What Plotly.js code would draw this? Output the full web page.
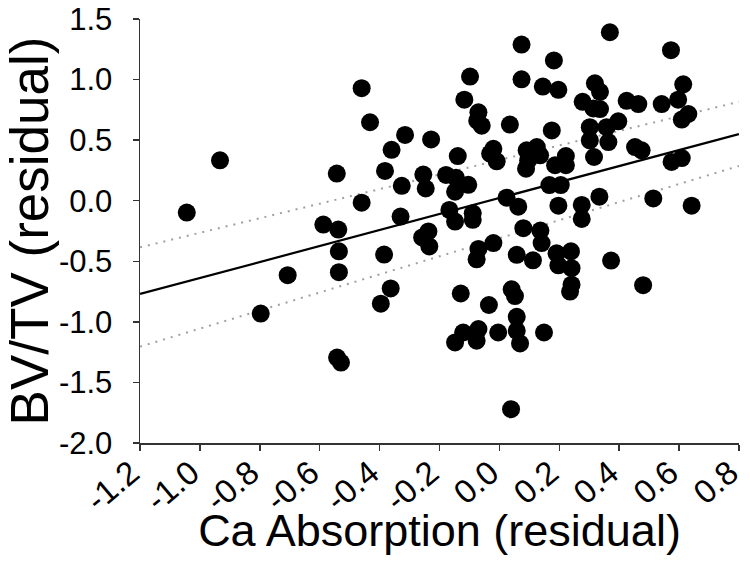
<!DOCTYPE html>
<html>
<head>
<meta charset="utf-8">
<script src="https://cdn.plot.ly/plotly-3.0.1.min.js"></script>
<style>
  html, body { margin: 0; padding: 0; background: #fff; }
  #chart { width: 750px; height: 572px; }
  #chart .g-xtitle { transform: translate(0px, -3px); }
</style>
</head>
<body>
<div id="chart"></div>
<script>
// Ca absorption residual (x) vs BV/TV residual (y)
const caAbsorption = [
  -1.044, -0.933, -0.797, -0.707, -0.588, -0.538, -0.543, -0.536, -0.536, -0.542,
  -0.529, -0.460, -0.432, -0.460, -0.382, -0.360, -0.326, -0.315, -0.330, -0.385,
  -0.363, -0.396, -0.228, -0.254, -0.246, -0.237, -0.258, -0.234, -0.178, -0.145,
  -0.148, -0.104, -0.070, -0.074, -0.059, -0.117, -0.098, -0.139, -0.020, -0.031,
  -0.009, 0.035, 0.074, 0.074, 0.182, 0.145, 0.197, 0.175, 0.091, 0.125,
  0.096, 0.136, 0.089, 0.186, 0.222, 0.222, 0.319, 0.336, 0.278, 0.314,
  0.336, 0.369, 0.425, 0.464, 0.397, 0.302, 0.358, 0.302, 0.364, 0.316,
  0.334, 0.573, 0.614, 0.542, 0.597, 0.631, 0.609, 0.453, 0.475, 0.575,
  0.609, 0.514, 0.642, 0.167, 0.205, 0.024, 0.063, 0.197, 0.275, 0.275,
  -0.167, -0.148, -0.089, -0.089, 0.080, 0.137, 0.141, -0.020, -0.070, -0.076,
  0.058, 0.112, 0.191, 0.239, 0.197, 0.241, 0.373, 0.480, 0.241, 0.236,
  -0.129, 0.041, 0.052, -0.035, 0.058, -0.121, -0.070, -0.148, -0.076, -0.004,
  0.058, 0.069, 0.149, 0.039
];
const bvtv = [
  -0.098, 0.334, -0.932, -0.615, -0.197, -0.238, 0.224, -0.418, -0.590, -1.295,
  -1.336, 0.929, 0.648, -0.016, 0.246, 0.420, 0.123, 0.543, -0.131, -0.445,
  -0.724, -0.850, 0.506, 0.216, 0.101, -0.254, -0.303, -0.377, 0.213, 0.189,
  0.074, 0.131, 0.730, 0.661, 0.620, 0.834, 1.025, 0.369, 0.429, 0.388,
  0.325, 0.629, 1.289, 1.002, 1.158, 0.943, 0.916, 0.580, 0.416, 0.443,
  0.334, 0.375, 0.265, 0.293, 0.369, 0.293, 0.970, 0.899, 0.817, 0.762,
  0.757, 1.391, 0.825, 0.798, 0.656, 0.607, 0.607, 0.498, 0.484, 0.361,
  0.033, 1.243, 0.961, 0.798, 0.834, 0.716, 0.670, 0.443, 0.416, 0.320,
  0.352, 0.019, -0.041, 0.129, 0.129, 0.025, -0.049, -0.041, -0.035, -0.150,
  -0.076, -0.172, -0.104, -0.158, -0.227, -0.246, -0.350, -0.350, -0.398, -0.484,
  -0.447, -0.492, -0.434, -0.418, -0.533, -0.557, -0.494, -0.697, -0.693, -0.750,
  -0.766, -0.732, -0.787, -0.861, -0.959, -1.088, -1.060, -1.170, -1.156, -1.088,
  -1.074, -1.178, -1.088, -1.721
];

// regression line and confidence bounds
const fitX = [-1.2, 0.8];
const fitY = [-0.77, 0.55];
const upperY = [-0.385, 0.817];
const lowerY = [-1.205, 0.287];

// axis ticks
const xTickVals = [-1.2, -1.0, -0.8, -0.6, -0.4, -0.2, 0.0, 0.2, 0.4, 0.6, 0.8];
const xTickText = ["-1.2", "-1.0", "-0.8", "-0.6", "-0.4", "-0.2", "0.0", "0.2", "0.4", "0.6", "0.8"];
const yTickVals = [-2.0, -1.5, -1.0, -0.5, 0.0, 0.5, 1.0, 1.5];
const yTickText = ["-2.0", "-1.5", "-1.0", "-0.5", "0.0", "0.5", "1.0", "1.5"];

const FONT = "Liberation Sans, Arial, sans-serif";

const traces = [
  {
    x: fitX, y: upperY, mode: "lines", type: "scatter",
    line: { color: "#a0a0a0", width: 2, dash: "2px,6px" }, hoverinfo: "skip"
  },
  {
    x: fitX, y: lowerY, mode: "lines", type: "scatter",
    line: { color: "#a0a0a0", width: 2, dash: "2px,6px" }, hoverinfo: "skip"
  },
  {
    x: fitX, y: fitY, mode: "lines", type: "scatter",
    line: { color: "#000", width: 2.2 }
  },
  {
    x: caAbsorption, y: bvtv, mode: "markers", type: "scatter",
    marker: { color: "#000", size: 18, line: { width: 0 } }
  }
];

const layout = {
  width: 750, height: 572,
  margin: { l: 140, r: 11, t: 19, b: 129 },
  paper_bgcolor: "#fff", plot_bgcolor: "#fff",
  showlegend: false,
  font: { family: FONT, color: "#000" },
  xaxis: {
    range: [-1.2002, 0.8002],
    tickvals: xTickVals, ticktext: xTickText,
    tickangle: -40,
    ticks: "outside", ticklen: 6, tickwidth: 1.5, tickcolor: "#333",
    ticklabeloverflow: "allow",
    ticklabelshift: -9,
    ticklabelstandoff: -10,
    showline: true, linecolor: "#333", linewidth: 1.5,
    showgrid: false, zeroline: false,
    tickfont: { size: 33, family: FONT, color: "#000" },
    title: { text: "Ca Absorption (residual)", font: { size: 45, family: FONT, color: "#000" }, standoff: 0 },
    automargin: false
  },
  yaxis: {
    range: [-2.0005, 1.5005],
    tickvals: yTickVals, ticktext: yTickText,
    ticks: "outside", ticklen: 6, tickwidth: 1.5, tickcolor: "#333",
    ticklabelstandoff: 14,
    ticklabeloverflow: "allow",
    showline: true, linecolor: "#333", linewidth: 1.5,
    showgrid: false, zeroline: false,
    tickfont: { size: 31, family: FONT, color: "#000" },
    title: { text: "BV/TV (residual)", font: { size: 53, family: FONT, color: "#000" }, standoff: 12 },
    automargin: false
  }
};

Plotly.newPlot("chart", traces, layout, { displayModeBar: false, staticPlot: true });
</script>
</body>
</html>
